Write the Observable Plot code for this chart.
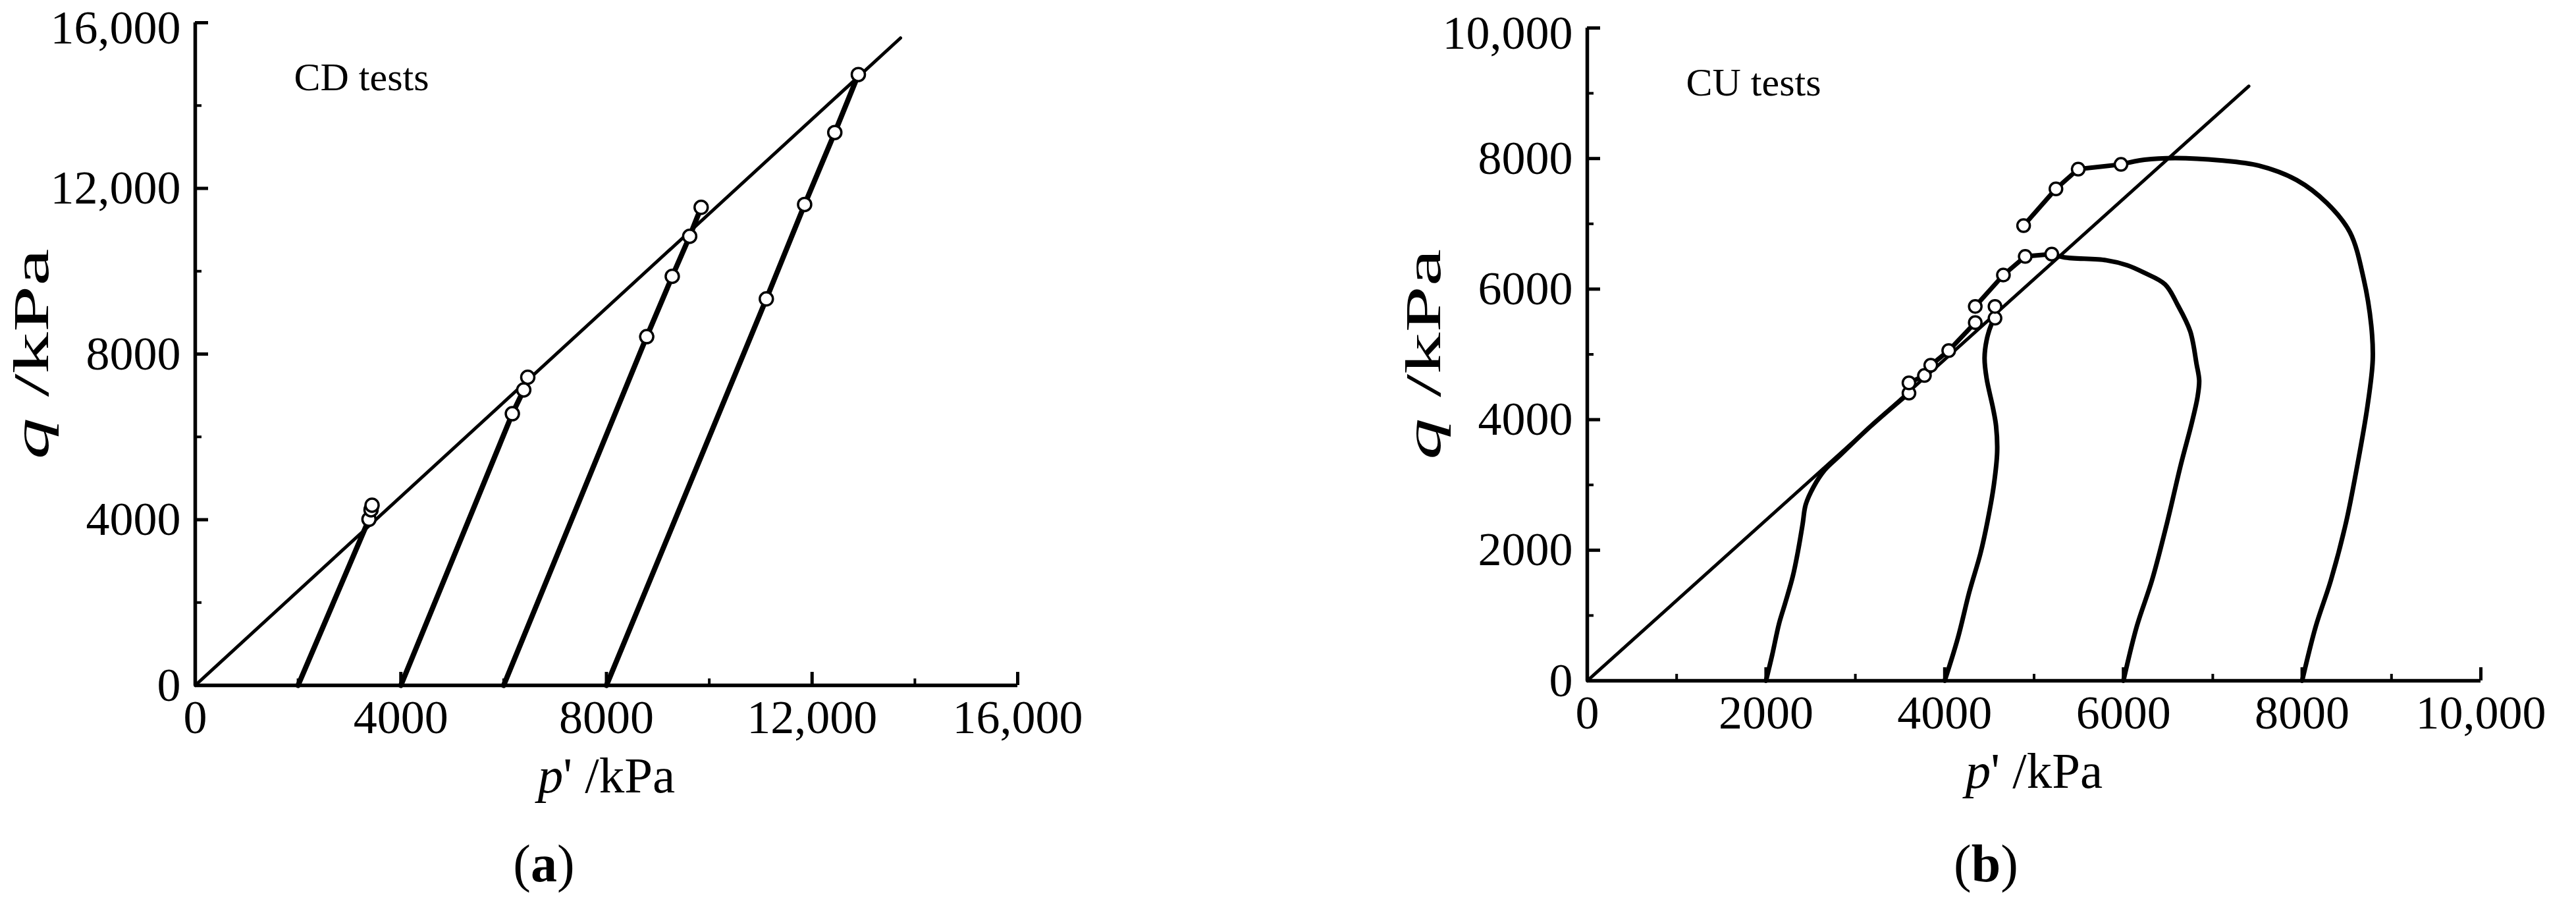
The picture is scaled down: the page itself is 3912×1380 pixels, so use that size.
<!DOCTYPE html>
<html>
<head>
<meta charset="utf-8">
<script src="https://cdn.jsdelivr.net/npm/d3@7"></script>
<script src="https://cdn.jsdelivr.net/npm/@observablehq/plot@0.6"></script>
<style>
  html, body { margin: 0; padding: 0; background: #fff; }
  #page { position: relative; width: 3912px; height: 1380px; background: #fff; overflow: hidden; font-family: "Liberation Serif", "Times New Roman", serif; color: #000; }
  .panel { position: absolute; top: 0; }
  .caption { position: absolute; font-size: 80px; line-height: 80px; text-align: center; width: 400px; }
  svg { overflow: visible; }
</style>
</head>
<body>
<div id="page">
  <div class="panel" id="panelA" style="left:0px;"></div>
  <div class="panel" id="panelB" style="left:1950px;"></div>
  <div class="caption" style="left:626px; top:1271px;">(<b>a</b>)</div>
  <div class="caption" style="left:2816px; top:1271px;">(<b>b</b>)</div>
</div>
<script>
// ---------------- Panel (a): CD tests (p', q in kPa) ----------------
const cdXMajor = [0, 4000, 8000, 12000, 16000];
const cdXMinor = [2000, 6000, 10000, 14000];
const cdYMajor = [0, 4000, 8000, 12000, 16000];
const cdYMinor = [2000, 6000, 10000, 14000];
const cdCSL = [[0, 0], [13720, 15630]];
const cd2000 = [[2000, 0], [3380, 4010], [3420, 4240], [3440, 4350]];
const cd4000 = [[4000, 0], [6169, 6559], [6391, 7133], [6469, 7440]];
const cd6000 = [[6000, 0], [8783, 8420], [9280, 9877], [9619, 10843], [9842, 11542]];
const cd8000 = [[8000, 0], [11110, 9331], [11855, 11612], [12442, 13349], [12900, 14749]];
const cdMarkers = [
  [3380, 4010], [3420, 4240], [3440, 4350],
  [6169, 6559], [6391, 7133], [6469, 7440],
  [8783, 8420], [9280, 9877], [9619, 10843], [9842, 11542],
  [11110, 9331], [11855, 11612], [12442, 13349], [12900, 14749]
];

// ---------------- Panel (b): CU tests ----------------
const cuXMajor = [0, 2000, 4000, 6000, 8000, 10000];
const cuXMinor = [1000, 3000, 5000, 7000, 9000];
const cuYMajor = [0, 2000, 4000, 6000, 8000, 10000];
const cuYMinor = [1000, 3000, 5000, 7000, 9000];
const cuCSL = [[0, 0], [7403, 9109]];
const cu2000 = [[2000, 0], [2070, 400], [2146, 875], [2214, 1186], [2300, 1600], [2358, 1985], [2410, 2400], [2444, 2696], [2529, 2962], [2657, 3229], [2827, 3451], [3168, 3895], [3600, 4406]];
const cu2000Tail = [[3600, 4406], [3600, 4563], [3773, 4676], [3844, 4833], [4045, 5058], [4342, 5487]];
const cu4000 = [[4000, 0], [4147, 653], [4276, 1363], [4400, 1950], [4480, 2450], [4550, 3000], [4587, 3505], [4575, 3900], [4540, 4180], [4469, 4631], [4446, 4945], [4469, 5217], [4520, 5450], [4563, 5554]];
const cu4000Tail = [[4563, 5554], [4563, 5735]];
const cu6000 = [[6000, 0], [6149, 830], [6320, 1541], [6490, 2429], [6644, 3318], [6763, 3939], [6830, 4350], [6848, 4600], [6818, 4856], [6748, 5351], [6607, 5757], [6466, 6072], [6231, 6252], [6043, 6365], [5808, 6442], [5338, 6486], [5198, 6536]];
const cu6000Tail = [[5198, 6536], [4901, 6500], [4657, 6216], [4342, 5735]];
const cu8000 = [[8000, 0], [8152, 830], [8322, 1541], [8492, 2429], [8620, 3318], [8731, 4206], [8790, 4916], [8773, 5449], [8688, 6160], [8535, 6871], [8279, 7315], [7939, 7670], [7513, 7892], [7087, 7972], [6576, 8008], [6235, 7982], [5973, 7910]];
const cu8000Tail = [[5973, 7910], [5494, 7838], [5245, 7536], [4883, 6973]];
const cuMarkers = [
  [3600, 4406], [3600, 4563], [3773, 4676], [3844, 4833], [4045, 5058], [4342, 5487],
  [4342, 5735], [4563, 5554], [4563, 5735], [4657, 6216], [4901, 6500], [5198, 6536],
  [4883, 6973], [5245, 7536], [5494, 7838], [5973, 7910]
];

const fmt = d => d >= 10000 ? d3.format(",")(d) : String(d);
const P = d => d[0], Q = d => d[1];
const FONT = "Liberation Serif, Times New Roman, serif";

function italicize(svg) {
  const NS = "http://www.w3.org/2000/svg";
  for (const t of svg.querySelectorAll("text")) {
    const s = t.textContent;
    if (s === "p' /kPa" || s === "q /kPa") {
      while (t.firstChild) t.removeChild(t.firstChild);
      const a = document.createElementNS(NS, "tspan");
      a.setAttribute("font-style", "italic");
      a.textContent = s[0];
      const b = document.createElementNS(NS, "tspan");
      b.textContent = s.slice(1);
      t.appendChild(a); t.appendChild(b);
      if (s === "q /kPa") {
        // the vertical title is drawn elongated in the original figure
        t.setAttribute("textLength", 320);
        t.setAttribute("lengthAdjust", "spacingAndGlyphs");
      }
    }
  }
  return svg;
}

function axes(xMajor, xMinor, yMajor, yMinor) {
  const yTop = yMajor[yMajor.length - 1];
  return [
    // tick marks (inward)
    Plot.axisX({ticks: xMinor, tickSize: -10, strokeWidth: 4, tickFormat: () => "", label: null}),
    Plot.axisY({ticks: yMinor, tickSize: -10, strokeWidth: 4, tickFormat: () => "", label: null}),
    Plot.axisX({ticks: xMajor, tickSize: -20, strokeWidth: 5, tickFormat: () => "", label: null}),
    Plot.axisY({ticks: yMajor, tickSize: -20, strokeWidth: 5, tickFormat: () => "", label: null}),
    // tick labels
    Plot.axisX({ticks: xMajor, tickSize: 0, tickPadding: 21, tickFormat: fmt, fontSize: 72, label: null}),
    Plot.axisY({ticks: yMajor.slice(0, -1), tickSize: 0, tickPadding: 22, tickFormat: fmt, fontSize: 72, label: null}),
    Plot.axisY({ticks: [yTop], tickSize: 0, tickPadding: 22, dy: 8, tickFormat: fmt, fontSize: 72, label: null}),
    // axis lines
    Plot.ruleY([0], {strokeWidth: 5.5}),
    Plot.ruleX([0], {strokeWidth: 5.5})
  ];
}

function titles(noteText) {
  return [
    Plot.text([noteText], {frameAnchor: "top-left", dx: 150, dy: 102, lineAnchor: "bottom", textAnchor: "start", fontSize: 60}),
    Plot.text(["p' /kPa"], {frameAnchor: "bottom", dy: 162, lineAnchor: "bottom", textAnchor: "middle", fontSize: 77}),
    Plot.text(["q /kPa"], {frameAnchor: "left", dx: -224, rotate: -90, lineAnchor: "bottom", textAnchor: "middle", fontSize: 77})
  ];
}

const lineOpts = w => ({x: P, y: Q, strokeWidth: w, strokeLinejoin: "round", strokeLinecap: "round"});

const plotA = Plot.plot({
  width: 1900, height: 1240,
  marginLeft: 296, marginRight: 355, marginTop: 34, marginBottom: 200,
  style: {fontFamily: FONT, background: "#fff", color: "#000"},
  x: {domain: [0, 16000], label: null},
  y: {domain: [0, 16000], label: null},
  marks: [
    ...axes(cdXMajor, cdXMinor, cdYMajor, cdYMinor),
    Plot.line(cdCSL, lineOpts(5)),
    Plot.line(cd2000, lineOpts(8)),
    Plot.line(cd4000, lineOpts(8)),
    Plot.line(cd6000, lineOpts(8)),
    Plot.line(cd8000, lineOpts(8)),
    Plot.dot(cdMarkers, {x: P, y: Q, r: 10, fill: "#fff", stroke: "#000", strokeWidth: 3.5}),
    ...titles("CD tests")
  ]
});
document.getElementById("panelA").appendChild(italicize(plotA));

const plotB = Plot.plot({
  width: 1962, height: 1240,
  marginLeft: 460, marginRight: 145, marginTop: 42, marginBottom: 207,
  style: {fontFamily: FONT, background: "#fff", color: "#000"},
  x: {domain: [0, 10000], label: null},
  y: {domain: [0, 10000], label: null},
  marks: [
    ...axes(cuXMajor, cuXMinor, cuYMajor, cuYMinor),
    Plot.line(cuCSL, lineOpts(5)),
    Plot.line(cu2000, {...lineOpts(7), curve: "catmull-rom"}),
    Plot.line(cu2000Tail, lineOpts(7)),
    Plot.line(cu4000, {...lineOpts(7), curve: "catmull-rom"}),
    Plot.line(cu4000Tail, lineOpts(7)),
    Plot.line(cu6000, {...lineOpts(7), curve: "catmull-rom"}),
    Plot.line(cu6000Tail, lineOpts(7)),
    Plot.line(cu8000, {...lineOpts(7), curve: "catmull-rom"}),
    Plot.line(cu8000Tail, lineOpts(7)),
    Plot.dot(cuMarkers, {x: P, y: Q, r: 9.5, fill: "#fff", stroke: "#000", strokeWidth: 3.5}),
    ...titles("CU tests")
  ]
});
document.getElementById("panelB").appendChild(italicize(plotB));
</script>
</body>
</html>
